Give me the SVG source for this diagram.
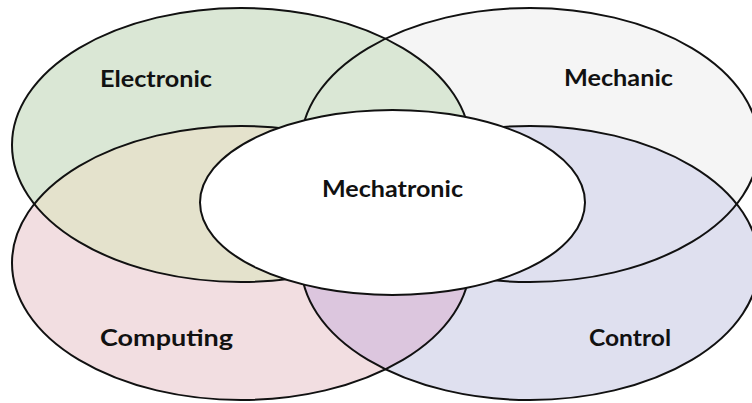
<svg xmlns="http://www.w3.org/2000/svg" xmlns:xlink="http://www.w3.org/1999/xlink" width="752" height="403" viewBox="0 0 752 403">
<style>
.lbl{font-family:Lato,"Open Sans","Liberation Sans",sans-serif;font-weight:bold;font-size:23px;fill:#111}
.ol{fill:none;stroke:#111;stroke-width:2}
</style>
<defs>
<ellipse id="eE" cx="241" cy="145" rx="229" ry="137"/>
<ellipse id="eM" cx="530" cy="145" rx="229" ry="137"/>
<ellipse id="eP" cx="241" cy="263" rx="229" ry="137"/>
<ellipse id="eC" cx="530" cy="263" rx="229" ry="137"/>
<clipPath id="cE"><use xlink:href="#eE"/></clipPath>
<clipPath id="cP"><use xlink:href="#eP"/></clipPath>
</defs>
<rect width="752" height="403" fill="#fff"/>
<g id="node-mechanic">
<use xlink:href="#eM" fill="#f5f5f5"/>
<text class="lbl" x="564" y="86" textLength="109" lengthAdjust="spacingAndGlyphs">Mechanic</text>
</g>
<g id="node-electronic">
<use xlink:href="#eE" fill="#dae7d5"/>
<text class="lbl" x="100" y="87" textLength="112" lengthAdjust="spacingAndGlyphs">Electronic</text>
</g>
<g id="node-computing">
<use xlink:href="#eP" fill="#f2dee1"/>
<text class="lbl" x="100" y="346" textLength="133" lengthAdjust="spacingAndGlyphs">Computing</text>
</g>
<g id="node-control">
<use xlink:href="#eC" fill="#dfe0ef"/>
<text class="lbl" x="589" y="346" textLength="82" lengthAdjust="spacingAndGlyphs">Control</text>
</g>
<g id="overlaps">
<use xlink:href="#eP" fill="#e4e2cc" clip-path="url(#cE)"/>
<use xlink:href="#eC" fill="#dcc6de" clip-path="url(#cP)"/>
</g>
<g id="outlines">
<use xlink:href="#eE" class="ol"/>
<use xlink:href="#eM" class="ol"/>
<use xlink:href="#eP" class="ol"/>
<use xlink:href="#eC" class="ol"/>
</g>
<g id="node-mechatronic">
<ellipse cx="392.5" cy="202.5" rx="192.5" ry="92.5" fill="#fff" stroke="#111" stroke-width="2"/>
<text class="lbl" x="322" y="197" textLength="141" lengthAdjust="spacingAndGlyphs">Mechatronic</text>
</g>
</svg>
